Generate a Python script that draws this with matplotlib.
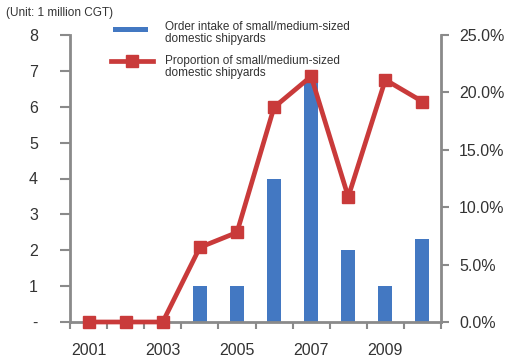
import matplotlib
matplotlib.use("Agg")
import matplotlib.pyplot as plt
from matplotlib.lines import Line2D
from matplotlib.patches import Rectangle
from matplotlib.ticker import FixedLocator, FuncFormatter

plt.rcParams["font.family"] = ["Liberation Sans", "DejaVu Sans"]

years = [2001, 2002, 2003, 2004, 2005, 2006, 2007, 2008, 2009, 2010]
order_intake = [0, 0, 0, 1.0, 1.0, 4.0, 6.7, 2.0, 1.0, 2.3]          # million CGT
proportion = [0.0, 0.0, 0.0, 6.5, 7.8, 18.7, 21.4, 10.9, 21.1, 19.2]  # percent
year_labels = [2001, 2003, 2005, 2007, 2009]

BLUE = "#4378c2"
RED = "#c93a3a"
AXIS = "#8a8a8a"
TEXT = "#333333"

fig = plt.figure(figsize=(5.09, 3.61), dpi=100)
ax = fig.add_axes([70 / 509, 1 - 322 / 361, 371 / 509, 287 / 361])
ax2 = ax.twinx()

ax.bar(years, order_intake, width=0.38, color=BLUE, zorder=2)
ax2.plot(years, proportion, color=RED, linewidth=3.4, marker="s",
         markersize=8, markerfacecolor=RED, markeredgecolor=RED,
         clip_on=False, zorder=3)

ax.set_xlim(2000.5, 2010.5)
ax.set_ylim(0, 8)
ax2.set_ylim(0, 25)

# left axis: "-" stands in for zero
ax.set_yticks(range(9))
ax.yaxis.set_major_formatter(FuncFormatter(lambda v, p: "-" if v == 0 else f"{int(v)}"))
ax2.set_yticks([0, 5, 10, 15, 20, 25])
ax2.yaxis.set_major_formatter(FuncFormatter(lambda v, p: f"{v:.1f}%"))

# year labels every other year, tick marks between categories
ax.xaxis.set_major_locator(FixedLocator(year_labels))
ax.xaxis.set_minor_locator(FixedLocator([y + 0.5 for y in range(2000, 2011)]))
ax.tick_params(axis="x", which="major", length=0, pad=15, labelsize=11.5, labelcolor=TEXT)
ax.tick_params(axis="x", which="minor", length=5, width=1.5, color=AXIS, direction="out")
ax.tick_params(axis="y", length=7, width=1.5, color=AXIS, pad=16, labelsize=11.5, labelcolor=TEXT)
ax2.tick_params(axis="y", length=6, width=1.5, color=AXIS, pad=7, labelsize=11.5, labelcolor=TEXT)

for a in (ax, ax2):
    a.spines["top"].set_visible(False)
    for side in ("left", "right", "bottom"):
        a.spines[side].set_color(AXIS)
        a.spines[side].set_linewidth(2)
ax.spines["right"].set_visible(False)
ax2.spines["left"].set_visible(False)
ax2.spines["bottom"].set_visible(False)

# unit note
fig.text(6 / 509, 1 - 13 / 361, "(Unit: 1 million CGT)", fontsize=8.5,
         color=TEXT, va="center", ha="left")

# legend, handles level with the first line of each label
fig.patches.append(Rectangle((113 / 509, 1 - 32 / 361), 35 / 509, 5 / 361,
                             transform=fig.transFigure, facecolor=BLUE,
                             edgecolor="none"))
fig.text(165 / 509, 1 - 33 / 361,
         "Order intake of small/medium-sized\ndomestic shipyards",
         fontsize=8.5, color=TEXT, va="center", ha="left", linespacing=0.95)

fig.lines.append(Line2D([111 / 509, 153 / 509], [1 - 61 / 361, 1 - 61 / 361],
                        transform=fig.transFigure, color=RED, linewidth=3.4))
fig.lines.append(Line2D([132 / 509], [1 - 61 / 361], transform=fig.transFigure,
                        color=RED, marker="s", markersize=9, linestyle="none"))
fig.text(165 / 509, 1 - 67 / 361,
         "Proportion of small/medium-sized\ndomestic shipyards",
         fontsize=8.5, color=TEXT, va="center", ha="left", linespacing=0.95)

fig.savefig("out.png", dpi=100)
